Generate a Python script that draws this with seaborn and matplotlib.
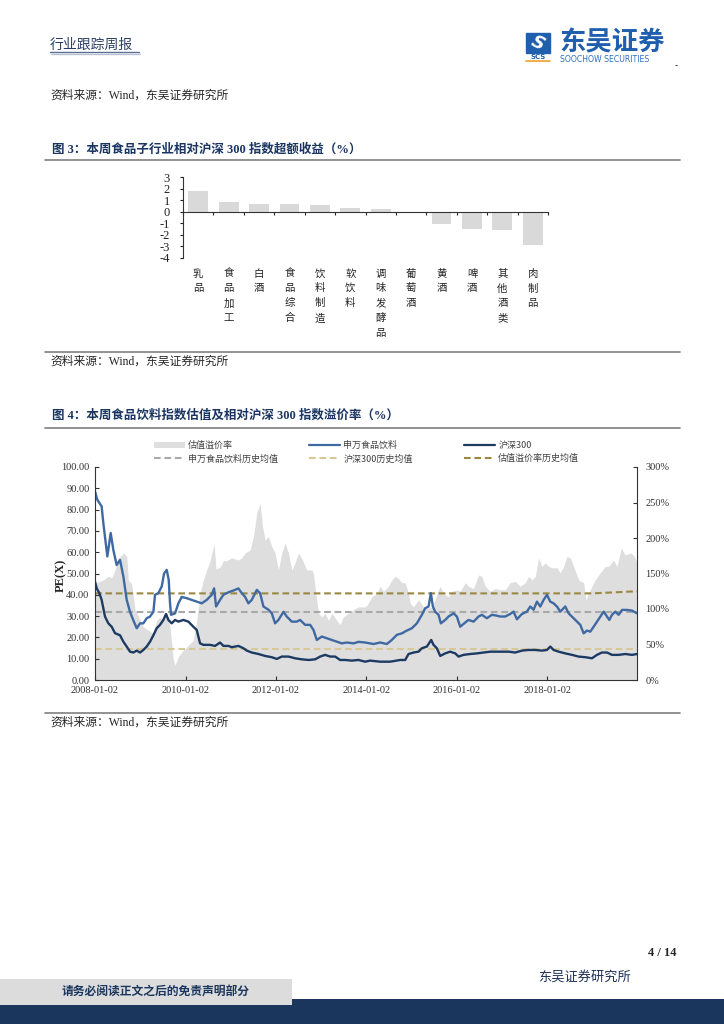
import numpy as np
import pandas as pd
import seaborn as sns
import matplotlib.pyplot as plt
import matplotlib.dates as mdates
import matplotlib.transforms as mtrans
from matplotlib.lines import Line2D
from matplotlib.patches import Patch, Rectangle

# ---- figure 3 data: weekly excess return vs CSI300 (%)
sub_industries = ["乳品", "食品加工", "白酒", "食品综合", "饮料制造", "软饮料",
                  "调味发酵品", "葡萄酒", "黄酒", "啤酒", "其他酒类", "肉制品"]
excess_return = [1.83, 0.83, 0.69, 0.63, 0.57, 0.31, 0.2, 0.0, -1.06, -1.49, -1.57, -2.86]

# ---- figure 4 data (time = years after 2008-01-02)
START = "2008-01-02"
sw_t = [0.000, 0.052, 0.147, 0.184, 0.221, 0.273, 0.347, 0.406, 0.479, 0.553,
        0.627, 0.701, 0.774, 0.848, 0.922, 0.996, 1.069, 1.143, 1.217, 1.291,
        1.327, 1.401, 1.475, 1.527, 1.586, 1.630, 1.659, 1.681, 1.770, 1.844,
        1.917, 2.028, 2.139, 2.249, 2.360, 2.470, 2.581, 2.633, 2.677, 2.765,
        2.839, 2.913,
        2.987, 3.060, 3.171, 3.245, 3.319, 3.392, 3.466, 3.577, 3.650, 3.724,
        3.835, 3.909, 3.982, 4.056, 4.167, 4.240, 4.351, 4.462, 4.535, 4.646,
        4.757, 4.831, 4.904, 5.015, 5.125, 5.236, 5.347, 5.457, 5.568, 5.716,
        5.826, 5.973,
        6.157, 6.305, 6.453, 6.563, 6.674, 6.785, 6.895, 7.006, 7.117, 7.227,
        7.301, 7.375, 7.426, 7.470, 7.522, 7.596, 7.647, 7.743, 7.817, 7.928,
        8.001, 8.075, 8.186, 8.260, 8.370, 8.481, 8.555, 8.665, 8.776, 8.887,
        8.960, 9.071, 9.181, 9.255, 9.329, 9.440, 9.550, 9.624, 9.698, 9.772,
        9.845, 9.919, 9.993, 10.066, 10.140, 10.214, 10.288, 10.398, 10.472, 10.583,
        10.657, 10.730, 10.804, 10.878, 10.951, 11.025, 11.099, 11.173, 11.246, 11.320,
        11.372, 11.431, 11.504, 11.578, 11.652, 11.763, 11.873, 11.984]
sw_pe = [88.6, 84.6, 81.5, 73.7, 67, 58, 69, 61, 54, 56.4,
         48.6, 37.6, 32, 28, 24.3, 26.6, 26.6, 29, 29.8, 32,
         40, 40.8, 43.9, 50, 51.7, 47, 36, 30.6, 31.3, 36,
         39, 38.4, 37.6, 36.8, 36, 37.6, 40, 43, 34.5, 37.6,
         40, 40.8,
         41.5, 42, 43, 40.8, 39, 36, 37.6, 42.3, 40.8, 34.5,
         33, 31.3, 26.6, 28.2, 32, 29.8, 27.4, 27.4, 28.2, 25.9,
         25.9, 23.5, 18.8, 20.4, 19.6, 18.8, 18, 17.2, 17.6, 17.2,
         17.9, 17.6,
         16.9, 17.6, 16.9, 18.8, 21.2, 21.9, 23.2, 24.3, 26.6, 30.6,
         33.7, 34.5, 40.8, 34.5, 32, 30.6, 26.6, 28.2, 29.8, 31.3,
         29.8, 25, 27, 28.2, 27.4, 29.8, 30.6, 29, 30.6, 30.2,
         29.8, 29.8, 31, 32.1, 28.5, 31, 32.1, 34.5, 33, 36.8,
         34.5, 37.6, 40, 36.8, 36, 34.5, 32.1, 34.5, 31.3, 29,
         27.4, 25.9, 21.9, 23.2, 22.7, 25, 27.4, 29.8, 32.1, 29.8,
         28.2, 30.6, 32.1, 30.6, 32.9, 32.9, 32.6, 31.3]

hs_t = [0.000, 0.037, 0.096, 0.147, 0.221, 0.295, 0.369, 0.442, 0.553, 0.627,
        0.701, 0.774, 0.848, 0.922, 0.996, 1.069, 1.143, 1.217, 1.291, 1.364,
        1.438, 1.512, 1.571, 1.622, 1.696, 1.770, 1.844, 1.954, 2.065, 2.175,
        2.249, 2.323, 2.397, 2.544, 2.655, 2.765, 2.839, 2.950,
        3.024, 3.171, 3.282, 3.356, 3.466, 3.614, 3.761, 3.909, 4.020, 4.130,
        4.277, 4.425, 4.572, 4.720, 4.867, 4.978, 5.088, 5.199, 5.310, 5.420,
        5.531, 5.678, 5.826, 5.973,
        6.084, 6.305, 6.527, 6.748, 6.858, 6.932, 7.043, 7.153, 7.227, 7.338,
        7.434, 7.485, 7.559, 7.633, 7.743, 7.854, 7.965, 8.038, 8.149, 8.296,
        8.444, 8.591, 8.739, 8.887,
        9.003, 9.145, 9.292, 9.440, 9.587, 9.735, 9.882, 9.993, 10.066, 10.140,
        10.251, 10.398, 10.546, 10.693, 10.841, 10.988, 11.099, 11.209, 11.320, 11.431,
        11.578, 11.726, 11.873, 11.984]
hs_pe = [46.2, 43, 40.8, 37.6, 29.8, 26.6, 25, 22, 21, 18,
         15.7, 13.3, 12.9, 13.8, 12.9, 14.1, 15.7, 18, 21, 24.3,
         25.9, 28.2, 31, 28.2, 26.6, 28.2, 27.4, 28.2, 27.4, 25,
         23.5, 17.2, 16.5, 16.5, 16, 17.6, 16, 16,
         15.4, 16, 14.9, 13.8, 12.9, 12.2, 11.3, 10.7, 9.9, 11,
         11, 10.2, 9.7, 9.4, 9.7, 11, 11.8, 11, 11, 9.4,
         9.4, 9.1, 9.4, 8.6,
         9.1, 8.6, 8.6, 9.4, 9.4, 12.2, 12.9, 13.3, 14.9, 15.7,
         18.8, 16.5, 14.9, 11.3, 12.5, 13.3, 12.5, 11, 11.8, 12.2,
         12.5, 12.9, 13.3, 13.3,
         13.3, 13.3, 12.9, 13.8, 14.1, 14.1, 13.8, 14.1, 15.7, 14.1,
         13.3, 12.5, 11.8, 11, 10.7, 10.2, 11.8, 12.9, 12.9, 11.8,
         11.8, 12.2, 11.8, 12.2]

prem_t = [0.000, 0.184, 0.295, 0.369, 0.442, 0.516, 0.627, 0.701, 0.737, 0.811,
          0.885, 0.959, 1.069, 1.180, 1.291, 1.364, 1.438, 1.512, 1.586, 1.659,
          1.733, 1.770, 1.844, 1.954, 2.065, 2.175, 2.249, 2.323, 2.397, 2.470,
          2.544, 2.633, 2.677, 2.765, 2.839, 2.913,
          3.024, 3.171, 3.245, 3.319, 3.429, 3.503, 3.577, 3.650, 3.702, 3.761,
          3.835, 3.909, 3.982, 4.056, 4.130, 4.204, 4.277, 4.351, 4.425, 4.498,
          4.587, 4.683, 4.794, 4.831, 4.882, 4.941, 5.015, 5.088, 5.162, 5.236,
          5.347, 5.420, 5.494, 5.605, 5.716, 5.826, 5.973,
          6.010, 6.121, 6.231, 6.305, 6.379, 6.490, 6.563, 6.637, 6.711, 6.785,
          6.858, 6.932, 6.969, 7.043, 7.153, 7.264, 7.338, 7.445, 7.522, 7.596,
          7.633, 7.706, 7.817, 7.891, 8.001, 8.075, 8.186, 8.260, 8.370, 8.481,
          8.555, 8.628, 8.739, 8.850, 8.960,
          9.071, 9.181, 9.292, 9.403, 9.513, 9.587, 9.661, 9.735, 9.808, 9.882,
          9.956, 10.030, 10.103, 10.214, 10.288, 10.361, 10.435, 10.509, 10.583, 10.693,
          10.804, 10.856, 10.914, 10.988, 11.062, 11.173, 11.283, 11.357, 11.467, 11.541,
          11.637, 11.726, 11.836, 11.932, 11.984]
prem_pct = [136, 141, 146, 144, 155, 171, 179, 174, 141, 135,
            99, 90, 75, 70, 66, 84, 89, 84, 93, 75,
            28, 21, 33, 42, 49, 56, 84, 122, 141, 155,
            168, 192, 156, 159, 168, 168,
            172, 169, 172, 179, 183, 202, 235, 249, 217, 197,
            202, 188, 179, 155, 179, 193, 179, 155, 165, 179,
            169, 155, 155, 150, 122, 94, 89, 94, 84, 94,
            84, 78, 89, 94, 99, 103, 103,
            105, 117, 122, 132, 125, 132, 141, 146, 143, 137,
            137, 122, 108, 103, 113, 103, 101, 103, 113, 127,
            132, 122, 117, 125, 127, 125, 137, 132, 129, 148,
            146, 132, 125, 129, 127,
            127, 137, 139, 132, 137, 146, 141, 146, 172, 160,
            165, 160, 158, 158, 151, 160, 174, 172, 160, 141,
            137, 113, 122, 132, 141, 151, 160, 160, 169, 160,
            186, 176, 179, 174, 165]

sw_mean = 31.7
hs_mean = 14.7
prem_mean_t = [0.0, 11.0, 11.5, 11.984]
prem_mean = [122, 122, 123.5, 125]

legend_labels = ["估值溢价率", "申万食品饮料", "沪深300",
                 "申万食品饮料历史均值", "沪深300历史均值", "估值溢价率历史均值"]
date_ticks = ["2008-01-02", "2010-01-02", "2012-01-02", "2014-01-02", "2016-01-02", "2018-01-02"]

# colours
NAVY = "#1b3563"
BLUE = "#3f69a2"
DARK = "#1d3a62"
GREY_FILL = "#dedede"
GREY_DASH = "#a9a9a9"
TAN_DASH = "#d8c898"
OLIVE_DASH = "#9a8740"

sns.set_style("ticks")
plt.rcParams["font.family"] = ["Liberation Serif", "Noto Sans CJK SC"]
plt.rcParams["axes.unicode_minus"] = False

CJK = ["Noto Sans CJK SC", "DejaVu Sans"]
SER = ["Liberation Serif", "Noto Sans CJK SC"]


def to_dates(t):
    return pd.Timestamp(START) + pd.to_timedelta(np.array(t) * 365.25, unit="D")


def fx(px):
    return px / 724


def fy(px):
    return 1 - px / 1024


fig = plt.figure(figsize=(7.24, 10.24), dpi=100)


def hline(x0, x1, y, color="#7f7f7f", lw=1.2):
    fig.add_artist(Line2D([fx(x0), fx(x1)], [fy(y), fy(y)], color=color, lw=lw))


# ---- header
fig.text(fx(50), fy(45), "行业跟踪周报", family=CJK, fontsize=10, color="#2a3f66", va="center")
hline(50, 139, 52, color="#5b6f93", lw=1.0)
hline(51, 140, 53.5, color="#b9c2d3", lw=1.0)
fig.add_artist(Rectangle((fx(526), fy(53)), fx(24), 20 / 1024, color="#1f5fae"))
fig.text(fx(538), fy(43), "S", color="white", fontsize=13, fontweight="bold",
         family="DejaVu Sans", ha="center", va="center", rotation=-25, style="italic")
fig.text(fx(538), fy(57), "SCS", color="#1f5fae", fontsize=5, fontweight="bold",
         family="DejaVu Sans", ha="center", va="center")
hline(526, 550, 61, color="#f0a030", lw=1.2)
fig.text(fx(559), fy(43), "东吴证券", family=CJK, fontsize=19, fontweight="bold",
         color="#1f5fae", va="center")
fig.text(fx(560), fy(59), "SOOCHOW SECURITIES", family="DejaVu Sans", fontsize=5.6,
         color="#2f6fbe", va="center")
fig.text(fx(675), fy(66), "-", fontsize=7, color="#333333", va="center")

fig.text(fx(50), fy(96), "资料来源：Wind，东吴证券研究所", fontsize=8.5, va="center", family=SER)

# ---- figure 3
fig.text(fx(52), fy(149), "图 3：本周食品子行业相对沪深 300 指数超额收益（%）", fontsize=9,
         fontweight="bold", color=NAVY, va="center", family=SER)
hline(45, 680, 160)
hline(45, 680, 352)
fig.text(fx(50), fy(362), "资料来源：Wind，东吴证券研究所", fontsize=8.5, va="center", family=SER)

ax1 = fig.add_axes([fx(183), fy(258), fx(548) - fx(183), (258 - 177) / 1024])
sns.barplot(x=sub_industries, y=excess_return, order=sub_industries, color="#d9d9d9",
            saturation=1, width=0.65, linewidth=0, ax=ax1)
ax1.set_xlim(-0.5, len(sub_industries) - 0.5)
ax1.set_ylim(-4, 3)
ax1.set_yticks(range(-4, 4))
ax1.set_xticks(np.arange(-0.5, len(sub_industries), 1))
ax1.set_xticklabels([])
for s in ["top", "right"]:
    ax1.spines[s].set_visible(False)
ax1.spines["bottom"].set_position(("data", 0))
ax1.spines["bottom"].set_color("#333333")
ax1.spines["left"].set_color("#333333")
ax1.spines["bottom"].set_linewidth(0.8)
ax1.spines["left"].set_linewidth(0.8)
ax1.tick_params(axis="y", direction="out", length=2.5, width=0.8, pad=7, labelsize=9, colors="#222222")
ax1.tick_params(axis="x", direction="out", length=2.5, width=0.8)
ax1.set_xlabel("")
ax1.set_ylabel("")
trans = mtrans.blended_transform_factory(ax1.transData, ax1.transAxes)
for i, name in enumerate(sub_industries):
    ax1.text(i, -0.13, "\n".join(name), transform=trans, ha="center", va="top",
             family=CJK, fontsize=7.5, linespacing=1.6, color="#222222")

# ---- figure 4
fig.text(fx(52), fy(416), "图 4：本周食品饮料指数估值及相对沪深 300 指数溢价率（%）", fontsize=9,
         fontweight="bold", color=NAVY, va="center", family=SER)
hline(45, 680, 428)
hline(45, 680, 713)
fig.text(fx(50), fy(723), "资料来源：Wind，东吴证券研究所", fontsize=8.5, va="center", family=SER)

ax = fig.add_axes([fx(95), fy(680), fx(637) - fx(95), 213 / 1024])
axr = ax.twinx()

prem_dates = to_dates(prem_t)
axr.fill_between(prem_dates, 0, prem_pct, color=GREY_FILL, lw=0)
sns.lineplot(x=to_dates(prem_mean_t), y=prem_mean, ax=axr, color=OLIVE_DASH, lw=1.5,
             linestyle=(0, (3.2, 1.8)))
axr.set_ylim(0, 300)
axr.set_yticks(range(0, 301, 50))
axr.set_yticklabels([f"{v}%" for v in range(0, 301, 50)])

ax.set_zorder(axr.get_zorder() + 1)
ax.patch.set_visible(False)
ax.axhline(sw_mean, color=GREY_DASH, lw=1.5, linestyle=(0, (3.2, 1.8)))
ax.axhline(hs_mean, color=TAN_DASH, lw=1.5, linestyle=(0, (3.2, 1.8)))
sns.lineplot(x=to_dates(sw_t), y=sw_pe, ax=ax, color=BLUE, lw=1.7)
sns.lineplot(x=to_dates(hs_t), y=hs_pe, ax=ax, color=DARK, lw=1.7)

xmin, xmax = to_dates([0.0])[0], to_dates([11.984])[0]
ax.set_xlim(xmin, xmax)
ax.set_ylim(0, 100)
ax.set_yticks(range(0, 101, 10))
ax.set_yticklabels([f"{v:.2f}" for v in range(0, 101, 10)])
ax.set_xticks(pd.to_datetime(date_ticks))
ax.xaxis.set_major_formatter(mdates.DateFormatter("%Y-%m-%d"))
ax.set_xlabel("")
ax.set_ylabel("")
axr.set_ylabel("")

for a in (ax, axr):
    a.spines["top"].set_visible(False)
    for s in ["left", "right", "bottom"]:
        a.spines[s].set_color("#333333")
        a.spines[s].set_linewidth(0.8)
ax.spines["right"].set_visible(False)
axr.spines["left"].set_visible(False)
axr.spines["bottom"].set_visible(False)
ax.tick_params(direction="in", length=3, width=0.8, labelsize=7.5, colors="#333333", pad=4)
axr.tick_params(direction="in", length=3, width=0.8, labelsize=7.5, colors="#333333", pad=6)
for lab in ax.get_xticklabels() + ax.get_yticklabels() + axr.get_yticklabels():
    lab.set_color("#333333")

fig.text(fx(61), fy(575), "PE(X)", rotation=90, fontsize=9, fontweight="bold",
         ha="center", va="center", family=SER)

# legend: three columns of two entries
dash = (0, (3.2, 1.8))
handles = [
    Patch(facecolor=GREY_FILL, edgecolor="none"),
    Line2D([], [], color=BLUE, lw=1.6),
    Line2D([], [], color=DARK, lw=1.6),
    Line2D([], [], color=GREY_DASH, lw=1.5, linestyle=dash),
    Line2D([], [], color=TAN_DASH, lw=1.5, linestyle=dash),
    Line2D([], [], color=OLIVE_DASH, lw=1.5, linestyle=dash),
]
for col, x0 in enumerate([154, 309, 464]):
    leg = fig.legend([handles[col], handles[col + 3]], [legend_labels[col], legend_labels[col + 3]],
                     loc="upper left", bbox_to_anchor=(fx(x0), fy(441)), frameon=False,
                     borderpad=0, borderaxespad=0, handlelength=3.4, handleheight=0.8,
                     handletextpad=0.4, labelspacing=0.45,
                     prop={"family": CJK, "size": 6.5})
    for t in leg.get_texts():
        t.set_color("#404040")

# ---- footer
fig.text(fx(676), fy(953), "4 / 14", fontsize=9, fontweight="bold", ha="right", va="center", family=SER)
fig.text(fx(538), fy(977), "东吴证券研究所", family=CJK, fontsize=9.5, color="#1c2f55", va="center")
fig.add_artist(Rectangle((0, 0), 1, 25 / 1024, color="#1b365d", lw=0))
fig.add_artist(Rectangle((0, fy(1005)), fx(292), 26 / 1024, color="#dcdcdc", lw=0))
fig.text(fx(62), fy(992), "请务必阅读正文之后的免责声明部分", family=CJK, fontsize=8.5,
         fontweight="bold", color="#1b365d", va="center")

fig.savefig("out.png", dpi=100)
